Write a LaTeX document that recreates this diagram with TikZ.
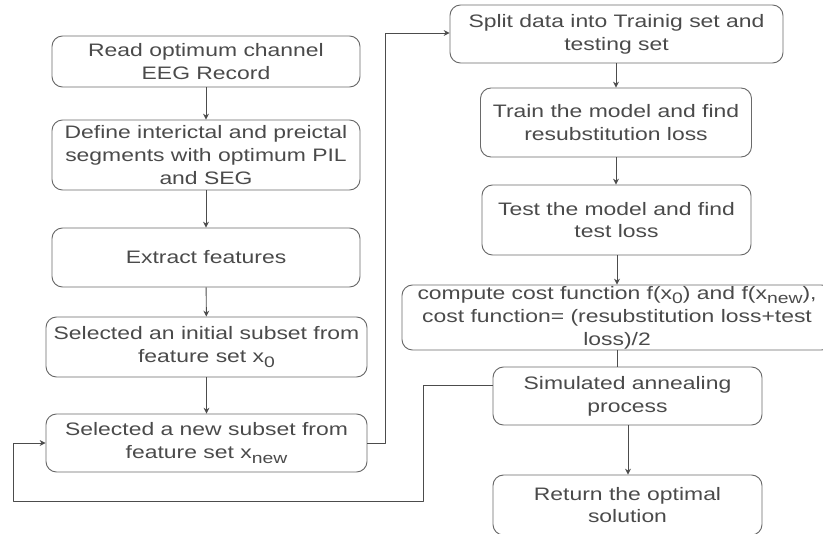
\documentclass[tikz,border=0pt]{standalone}
\usepackage{fontspec}
\setmainfont{Liberation Sans}[FakeStretch=1.27]
\usetikzlibrary{arrows.meta}
\definecolor{boxline}{HTML}{6A6A6A}
\definecolor{txt}{HTML}{4A4A4A}
\newcommand{\sbs}[1]{\raisebox{-0.45ex}{\fontsize{13}{13}\selectfont #1}}
\begin{document}
\begin{tikzpicture}[x=0.03cm,y=-0.03cm,line join=round,
  >={Stealth[length=5pt,width=5pt]},
  box/.style={draw=boxline,line width=0.8pt,rounded corners=9pt,align=center,
    text=txt,inner sep=0pt,font=\fontsize{15.4}{19.5}\selectfont},
  link/.style={draw=black!70,line width=0.8pt}]
\useasboundingbox (0,0) rectangle (823,533);
\clip (0,0) rectangle (823,533);
% left column
\node[box,minimum width=308*0.03cm,minimum height=51*0.03cm] (read) at (206,61.5)
  {Read optimum channel\\EEG Record};
\node[box,minimum width=308*0.03cm,minimum height=70*0.03cm] (define) at (206,155)
  {Define interictal and preictal\\segments with optimum PIL\\and SEG};
\node[box,minimum width=308*0.03cm,minimum height=59*0.03cm] (extract) at (206,257.5)
  {Extract features};
\node[box,minimum width=321*0.03cm,minimum height=60*0.03cm] (initial) at (206.5,347)
  {Selected an initial subset from\\feature set x\sbs{0}};
\node[box,minimum width=321*0.03cm,minimum height=58*0.03cm] (newsub) at (206.5,443)
  {Selected a new subset from\\feature set x\sbs{new}};
% right column
\node[box,minimum width=333*0.03cm,minimum height=58*0.03cm] (split) at (616.5,34)
  {Split data into Trainig set and\\testing set};
\node[box,minimum width=271*0.03cm,minimum height=69*0.03cm] (train) at (616,122.5)
  {Train the model and find\\resubstitution loss};
\node[box,minimum width=269*0.03cm,minimum height=70*0.03cm] (test) at (616.5,220)
  {Test the model and find\\test loss};
\node[box,minimum width=430*0.03cm,minimum height=65*0.03cm] (cost) at (617,317.5)
  {compute cost function f(x\sbs{0}) and f(x\sbs{new}),\\cost function= (resubstitution loss+test\\loss)/2};
\node[box,minimum width=269*0.03cm,minimum height=58*0.03cm] (anneal) at (627.5,396)
  {Simulated annealing\\process};
\node[box,minimum width=269*0.03cm,minimum height=60*0.03cm] (result) at (627.5,505)
  {Return the optimal\\solution};
% connectors
\draw[link,->] (read) -- (define);
\draw[link,->] (define) -- (extract);
\draw[link,->] (extract) -- (initial);
\draw[link,->] (initial) -- (newsub);
\draw[link,->] (newsub.east) -- (385,443) -- (385,33) -- (split.west |- 0,33);
\draw[link,->] (split.south -| 616,0) -- (train);
\draw[link,->] (train.south -| 616,0) -- (test.north -| 616,0);
\draw[link,->] (test.south -| 617,0) -- (cost.north -| 617,0);
\draw[link] (cost.south -| 617,0) -- (anneal.north -| 617,0);
\draw[link,->] (anneal.south -| 628,0) -- (result.north -| 628,0);
\draw[link,->] (anneal.west |- 0,385) -- (423,385) -- (423,501) -- (13,501)
  -- (13,443) -- (newsub.west);
\end{tikzpicture}
\end{document}
